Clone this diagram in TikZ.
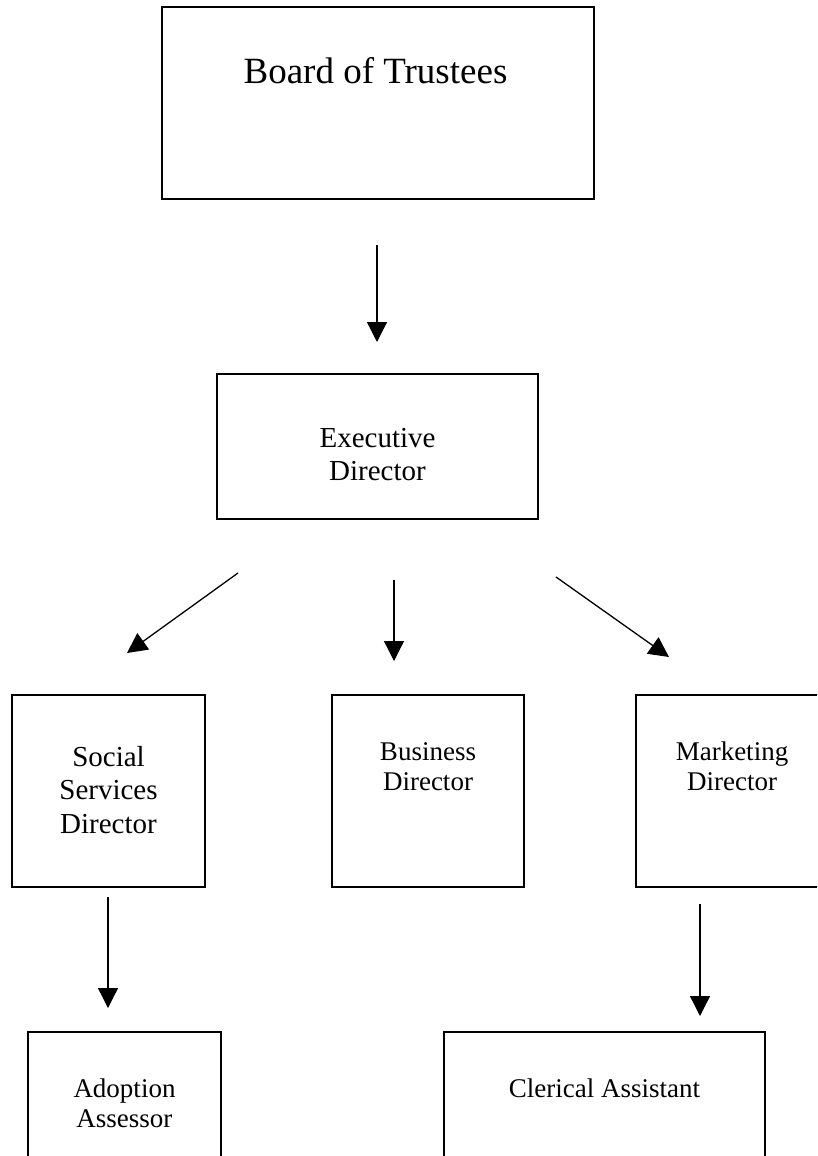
\documentclass[tikz,border=0pt]{standalone}
\usepackage{fontspec}
\setmainfont{Liberation Serif}
\usetikzlibrary{arrows.meta}
\begin{document}
\begin{tikzpicture}[x=1pt,y=-1pt,
  box/.style={draw=black, line width=1.8pt, rectangle, inner sep=0pt},
  lbl/.style={anchor=base, inner sep=0pt, text=black},
  big/.style={font=\fontsize{37}{41}\selectfont},
  mid/.style={font=\fontsize{29}{33.5}\selectfont},
  sml/.style={font=\fontsize{27}{30}\selectfont},
  arr/.style={line width=1.3pt, -{Triangle[length=20pt,width=20pt]}}]
\useasboundingbox (0,0) rectangle (817,1156);
\fill[white] (0,0) rectangle (817,1156);
\clip (0,0) rectangle (817,1156);

% boxes
\node[box, minimum width=432pt, minimum height=192pt] (board) at (378,103) {};
\node[box, minimum width=321pt, minimum height=145pt] (exec) at (377.5,446.5) {};
\node[box, minimum width=193pt, minimum height=192pt] (social) at (108.5,791) {};
\node[box, minimum width=192pt, minimum height=192pt] (business) at (428,791) {};
\node[box, minimum width=192pt, minimum height=192pt] (marketing) at (732,791) {};
\node[box, minimum width=193pt, minimum height=200pt] (adoption) at (124.5,1132) {};
\node[box, minimum width=321pt, minimum height=200pt] (clerical) at (604.5,1132) {};

% texts
\node[lbl, big] (boardT) at (375.5,83) {Board of Trustees};
\node[lbl, mid] (execT) at (377.5,447) {\begin{tabular}[t]{@{}c@{}}Executive\\Director\end{tabular}};
\node[lbl, mid] (socialT) at (108.5,766) {\begin{tabular}[t]{@{}c@{}}Social\\Services\\Director\end{tabular}};
\node[lbl, sml] (businessT) at (428,760) {\begin{tabular}[t]{@{}c@{}}Business\\Director\end{tabular}};
\node[lbl, sml] (marketingT) at (732,760) {\begin{tabular}[t]{@{}c@{}}Marketing\\Director\end{tabular}};
\node[lbl, sml] (adoptionT) at (124.5,1097) {\begin{tabular}[t]{@{}c@{}}Adoption\\Assessor\end{tabular}};
\node[lbl, sml] (clericalT) at (604.5,1097) {Clerical Assistant};

% arrow end points
\coordinate (a1s) at (377,245);  \coordinate (a1e) at (377,342);
\coordinate (a2s) at (238,573);  \coordinate (a2e) at (127,653);
\coordinate (a3s) at (394,580);  \coordinate (a3e) at (394,661);
\coordinate (a4s) at (556,577);  \coordinate (a4e) at (669,657);
\coordinate (a5s) at (108,897);  \coordinate (a5e) at (108,1008);
\coordinate (a6s) at (700,904);  \coordinate (a6e) at (700,1016);

\draw[arr] (a1s) -- (a1e);
\draw[arr] (a2s) -- (a2e);
\draw[arr] (a3s) -- (a3e);
\draw[arr] (a4s) -- (a4e);
\draw[arr] (a5s) -- (a5e);
\draw[arr] (a6s) -- (a6e);
\end{tikzpicture}
\end{document}
